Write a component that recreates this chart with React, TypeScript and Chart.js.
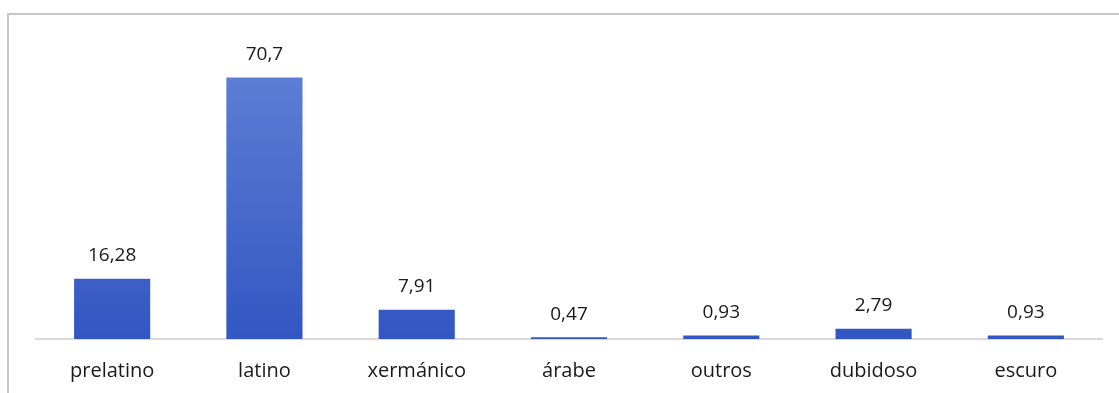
import React, { useEffect, useRef } from "react";
import { Chart, registerables } from "chart.js";

Chart.register(...registerables);

const categories = ["prelatino", "latino", "xermánico", "árabe", "outros", "dubidoso", "escuro"];
const values = [16.28, 70.7, 7.91, 0.47, 0.93, 2.79, 0.93];
const valueLabels = ["16,28", "70,7", "7,91", "0,47", "0,93", "2,79", "0,93"];

const FONT = "'Open Sans', 'Noto Sans', sans-serif";

const valueLabelPlugin = {
  id: "valueLabels",
  afterDatasetsDraw(chart: any) {
    const ctx = chart.ctx;
    const meta = chart.getDatasetMeta(0);
    ctx.save();
    ctx.font = `19px ${FONT}`;
    ctx.fillStyle = "#1a1a1a";
    ctx.textAlign = "center";
    ctx.textBaseline = "middle";
    meta.data.forEach((el: any, i: number) => {
      ctx.fillText(valueLabels[i], el.x, el.y - 23);
    });
    ctx.restore();
  },
};

export default function App() {
  const ref = useRef<HTMLCanvasElement | null>(null);
  useEffect(() => {
    if (!ref.current) return;
    const chart = new Chart(ref.current, {
      type: "bar",
      data: {
        labels: categories,
        datasets: [
          {
            data: values,
            backgroundColor: (c: any) => {
              const area = c.chart.chartArea;
              if (!area) return "#4468cc";
              const g = c.chart.ctx.createLinearGradient(0, area.top, 0, area.bottom);
              g.addColorStop(0, "#6283d6");
              g.addColorStop(1, "#3256c3");
              return g;
            },
            barPercentage: 0.5,
            categoryPercentage: 1,
          },
        ],
      },
      options: {
        animation: false,
        responsive: false,
        maintainAspectRatio: false,
        layout: { padding: { left: 36, right: 17, top: 43, bottom: -10 } },
        plugins: { legend: { display: false }, tooltip: { enabled: false } },
        scales: {
          x: {
            grid: { display: false, drawTicks: false },
            border: { display: true, color: "#d9d9d9", width: 2 },
            ticks: { color: "#1a1a1a", font: { family: FONT, size: 20 }, padding: 20 },
          },
          y: { display: false, min: 0, max: 80 },
        },
      },
      plugins: [valueLabelPlugin],
    });
    return () => chart.destroy();
  }, []);
  return (
    <div style={{ position: "fixed", left: 0, top: 0, width: 1119, height: 393, background: "#fff" }}>
      <canvas ref={ref} width={1119} height={393} style={{ position: "absolute", left: 0, top: 0 }} />
      <div
        style={{
          position: "absolute",
          left: 7,
          top: 13,
          width: 1112,
          height: 380,
          borderTop: "2px solid #c8c8c8",
          borderLeft: "2px solid #c8c8c8",
          pointerEvents: "none",
        }}
      />
    </div>
  );
}
